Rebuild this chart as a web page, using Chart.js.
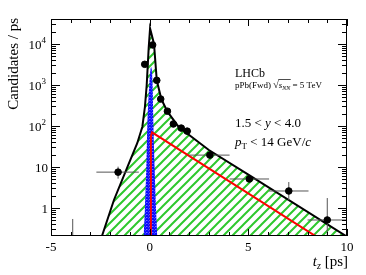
<!DOCTYPE html>
<html>
<head>
<meta charset="utf-8">
<script src="https://cdn.jsdelivr.net/npm/chart.js@4.4.1/dist/chart.umd.min.js"></script>
<style>
  html, body { margin: 0; padding: 0; background: #fff; }
  #wrap { width: 366px; height: 275px; position: relative; }
</style>
</head>
<body>
<div id="wrap"><canvas id="tz-chart"></canvas></div>
<script>
// --- data ---
// measured candidates per ps in t_z bins
const binCenters = [-3.9, -1.6, -0.25, 0.15, 0.36, 0.56, 0.9, 1.2, 1.6, 1.9, 3.05, 5.05, 7.05, 9.0];
const candidates = [0.05, 7.5, 3200, 9500, 1300, 455, 230, 112, 89, 75, 19.5, 5.1, 2.6, 0.51];
const errLow = [0.05, 5.2, 3000, 9300, 1250, 430, 215, 104, 82, 69, 17.5, 4.5, 1.55, 0.1];
const errHigh = [0.54, 10.2, 3400, 9700, 1350, 480, 245, 120, 96, 81, 21.5, 5.8, 4.3, 1.75];
const binLow = [-3.9, -2.7, -0.42, 0.05, 0.26, 0.46, 0.75, 1.05, 1.4, 1.75, 2.0, 4.05, 6.05, 8.0];
const binHigh = [-3.9, -0.55, -0.1, 0.25, 0.46, 0.68, 1.05, 1.4, 1.75, 2.1, 4.05, 6.05, 8.05, 10.0];

// total fit (black)
const totalX = [-2.6, -2.4, -1.81, -1.13, -0.63, -0.37, -0.24, -0.15, -0.05, 0.02, 0.1, 0.22, 0.36, 0.59, 0.9, 1.47, 3.0, 5.0, 10.0];
const totalY = [0.08, 0.22, 1.57, 10, 38, 96, 295, 1000, 8000, 24000, 17000, 10000, 1300, 455, 224, 95, 26, 6.5, 0.2];

// b-hadron tail (red)
const bX = [0.05, 0.06, 0.12, 8.6];
const bY = [0.1, 55, 70, 0.18];

// prompt peak (blue)
const promptX = [-0.32, -0.24, -0.17, -0.12, -0.02, 0.07, 0.15, 0.19, 0.25, 0.32, 0.4];
const promptY = [0.15, 1, 10, 100, 1000, 2700, 1000, 100, 10, 1, 0.15];

const xTicks = [-5, 0, 5, 10];
const yTicks = [1, 10, 100, 1000, 10000];
const yTickLabels = ['1', '10', '10^2', '10^3', '10^4'];

const SERIF = '"Liberation Serif", "DejaVu Serif", serif';

function zip(xs, ys) {
    return xs.map((x, i) => ({ x: x, y: ys[i] }));
}

function hatchPattern(color) {
    const c = document.createElement('canvas');
    c.width = 9; c.height = 9;
    const g = c.getContext('2d');
    g.strokeStyle = color;
    g.lineWidth = 2;
    g.beginPath();
    g.moveTo(0, 9); g.lineTo(9, 0);
    g.moveTo(-2, 2); g.lineTo(2, -2);
    g.moveTo(7, 11); g.lineTo(11, 7);
    g.stroke();
    return g.createPattern(c, 'repeat');
}

function crossPattern(color) {
    const c = document.createElement('canvas');
    c.width = 3; c.height = 3;
    const g = c.getContext('2d');
    g.fillStyle = '#c8c8ff';
    g.fillRect(0, 0, 3, 3);
    g.strokeStyle = color;
    g.lineWidth = 1.4;
    g.beginPath();
    g.moveTo(0, 3); g.lineTo(3, 0);
    g.moveTo(0, 0); g.lineTo(3, 3);
    g.stroke();
    return g.createPattern(c, 'repeat');
}

// draw a row of text pieces (text, font, vertical shift)
function drawRuns(ctx, x, y, parts, align) {
    let w = 0;
    parts.forEach(p => { ctx.font = p.f; w += ctx.measureText(p.t).width; });
    if (align === 'right') x -= w;
    if (align === 'center') x -= w / 2;
    const start = x;
    parts.forEach(p => {
        ctx.font = p.f;
        ctx.fillText(p.t, x, y + (p.dy || 0));
        x += ctx.measureText(p.t).width;
    });
    return { start: start, end: x };
}

// error bars, drawn just before the markers
const errorBars = {
    id: 'errorBars',
    beforeDatasetDraw(chart, args) {
        if (args.index !== 0) return;
        const ctx = chart.ctx, xs = chart.scales.x, ys = chart.scales.y, a = chart.chartArea;
        ctx.save();
        ctx.beginPath();
        ctx.rect(a.left, a.top, a.right - a.left, a.bottom - a.top);
        ctx.clip();
        ctx.strokeStyle = '#555';
        ctx.lineWidth = 1;
        binCenters.forEach((cx, i) => {
            const px = xs.getPixelForValue(cx);
            const py = ys.getPixelForValue(candidates[i]);
            ctx.beginPath();
            ctx.moveTo(px, ys.getPixelForValue(errLow[i]));
            ctx.lineTo(px, ys.getPixelForValue(errHigh[i]));
            ctx.moveTo(xs.getPixelForValue(binLow[i]), py);
            ctx.lineTo(xs.getPixelForValue(binHigh[i]), py);
            ctx.stroke();
        });
        ctx.restore();
    }
};

// ROOT-like frame, inner ticks and all the text
const frameAndText = {
    id: 'frameAndText',
    afterDraw(chart) {
        const ctx = chart.ctx, xs = chart.scales.x, ys = chart.scales.y, a = chart.chartArea;
        ctx.save();
        ctx.strokeStyle = '#000';
        ctx.lineWidth = 1;
        ctx.strokeRect(a.left + 0.5, a.top + 0.5, a.right - a.left - 1, a.bottom - a.top - 1);

        ctx.beginPath();
        for (let v = -5; v <= 10; v++) {
            const px = Math.round(xs.getPixelForValue(v)) + 0.5;
            const len = (v % 5 === 0) ? 7 : 4;
            ctx.moveTo(px, a.bottom); ctx.lineTo(px, a.bottom - len);
            ctx.moveTo(px, a.top); ctx.lineTo(px, a.top + len);
        }
        for (let dec = 0.1; dec <= 10000; dec *= 10) {
            for (let m = 1; m <= 9; m++) {
                const v = dec * m;
                if (v < ys.min || v > ys.max) continue;
                const py = Math.round(ys.getPixelForValue(v)) + 0.5;
                const len = (m === 1) ? 9 : 5;
                ctx.moveTo(a.left, py); ctx.lineTo(a.left + len, py);
                ctx.moveTo(a.right, py); ctx.lineTo(a.right - len, py);
            }
        }
        ctx.stroke();

        ctx.fillStyle = '#000';
        ctx.textBaseline = 'alphabetic';
        // x tick labels
        ctx.font = '13px ' + SERIF;
        ctx.textAlign = 'center';
        xTicks.forEach(v => {
            ctx.fillText(String(v).replace('-', '\u2011'), xs.getPixelForValue(v), 251);
        });
        // y tick labels
        ctx.textAlign = 'left';
        yTicks.forEach((v, i) => {
            const py = ys.getPixelForValue(v) + 4.5;
            const lab = yTickLabels[i];
            if (lab.indexOf('^') > 0) {
                const [b, e] = lab.split('^');
                drawRuns(ctx, 46, py, [
                    { t: b, f: '13px ' + SERIF },
                    { t: e, f: '9px ' + SERIF, dy: -6 }
                ], 'right');
            } else {
                drawRuns(ctx, 48, py, [{ t: lab, f: '13px ' + SERIF }], 'right');
            }
        });

        // axis titles
        drawRuns(ctx, 348, 266, [
            { t: 't', f: 'italic 15px ' + SERIF },
            { t: 'z', f: 'italic 10px ' + SERIF, dy: 3 },
            { t: ' [ps]', f: '15px ' + SERIF }
        ], 'right');

        ctx.save();
        ctx.translate(18, 18);
        ctx.rotate(-Math.PI / 2);
        drawRuns(ctx, 0, 0, [{ t: 'Candidates / ps', f: '15px ' + SERIF }], 'right');
        ctx.restore();

        // legend text
        drawRuns(ctx, 235, 77, [{ t: 'LHCb', f: '12px ' + SERIF }]);
        const r1 = drawRuns(ctx, 235, 88, [{ t: 'pPb(Fwd) ', f: '9px ' + SERIF }]);
        const sq = drawRuns(ctx, r1.end, 88, [{ t: '\u221A', f: '10px ' + SERIF }]);
        const sn = drawRuns(ctx, sq.end, 88, [
            { t: 's', f: 'italic 9px ' + SERIF },
            { t: 'NN', f: 'italic 6px ' + SERIF, dy: 2 }
        ]);
        ctx.beginPath();
        ctx.moveTo(sq.end - 0.5, 79.5);
        ctx.lineTo(sn.end + 0.5, 79.5);
        ctx.lineWidth = 0.7;
        ctx.stroke();
        drawRuns(ctx, sn.end, 88, [{ t: ' = 5 TeV', f: '9px ' + SERIF }]);

        drawRuns(ctx, 235, 127, [
            { t: '1.5 < ', f: '13px ' + SERIF },
            { t: 'y', f: 'italic 13px ' + SERIF },
            { t: ' < 4.0', f: '13px ' + SERIF }
        ]);
        drawRuns(ctx, 235, 146, [
            { t: 'p', f: 'italic 13px ' + SERIF },
            { t: 'T', f: '9px ' + SERIF, dy: 3 },
            { t: ' < 14 GeV/', f: '13px ' + SERIF },
            { t: 'c', f: 'italic 13px ' + SERIF }
        ]);
        ctx.restore();
    }
};

const ctx = document.getElementById('tz-chart').getContext('2d');
new Chart(ctx, {
    type: 'scatter',
    data: {
        datasets: [
            {
                label: 'Data',
                data: zip(binCenters, candidates),
                backgroundColor: '#000',
                borderColor: '#000',
                pointRadius: 3.3,
                showLine: false
            },
            {
                label: 'Total fit',
                data: zip(totalX, totalY),
                showLine: true,
                borderColor: '#000',
                borderWidth: 2,
                pointRadius: 0,
                tension: 0,
                fill: false,
                clip: 0
            },
            {
                label: 'From b',
                data: zip(bX, bY),
                showLine: true,
                borderColor: '#ff0000',
                borderWidth: 2,
                pointRadius: 0,
                fill: false,
                clip: 0
            },
            {
                label: 'Prompt',
                data: zip(promptX, promptY),
                showLine: true,
                borderColor: 'rgba(0,0,0,0)',
                borderWidth: 0,
                pointRadius: 0,
                cubicInterpolationMode: 'monotone',
                backgroundColor: crossPattern('#0a0aff'),
                fill: 'start',
                clip: 0
            },
            {
                label: 'Total area',
                data: zip(totalX, totalY),
                showLine: true,
                borderColor: 'rgba(0,0,0,0)',
                borderWidth: 0,
                pointRadius: 0,
                tension: 0,
                backgroundColor: hatchPattern('#2ec82e'),
                fill: 'start',
                clip: 0
            }
        ]
    },
    options: {
        responsive: true,
        maintainAspectRatio: false,
        animation: false,
        layout: { padding: { left: 51, right: 19, top: 19, bottom: 39 } },
        plugins: {
            legend: { display: false },
            tooltip: { enabled: false }
        },
        scales: {
            x: { type: 'linear', min: -5, max: 10, display: false },
            y: { type: 'logarithmic', min: 0.2075, max: 40800, display: false }
        }
    },
    plugins: [errorBars, frameAndText]
});
</script>
</body>
</html>
